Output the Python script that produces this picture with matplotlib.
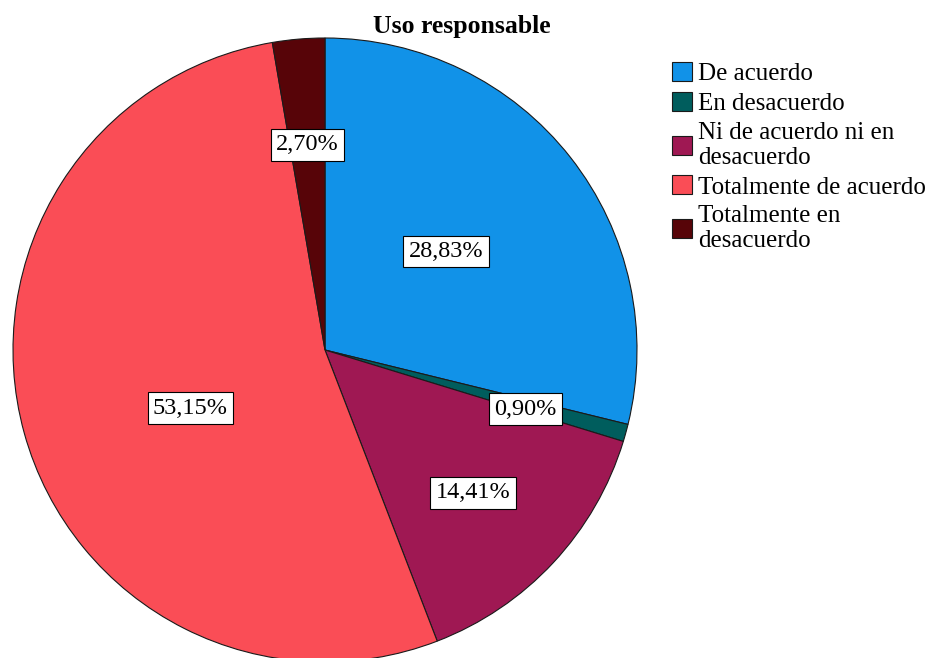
import matplotlib
matplotlib.use('Agg')
import matplotlib.pyplot as plt
import numpy as np

# Datos del gráfico
categorias = ['De acuerdo', 'En desacuerdo', 'Ni de acuerdo ni en\ndesacuerdo',
              'Totalmente de acuerdo', 'Totalmente en\ndesacuerdo']
porcentajes = [28.83, 0.90, 14.41, 53.15, 2.70]
etiquetas = ['28,83%', '0,90%', '14,41%', '53,15%', '2,70%']
colores = ['#1192e8', '#005d5d', '#9f1853', '#fa4d56', '#570408']

# posición de las etiquetas (fracción del radio, desfase angular en grados)
dist_etiqueta = [0.50, 0.67, 0.66, 0.47, 0.66]
desfase_ang = [1, -1, -1, 8, 0]

plt.rcParams['font.family'] = ['Liberation Serif', 'DejaVu Serif']

fig = plt.figure(figsize=(9.29, 6.58), dpi=100)
ax = fig.add_axes([13 / 929, -4 / 658, 624 / 929, 624 / 658])

wedges, _ = ax.pie(porcentajes, colors=colores, startangle=90, counterclock=False,
                   wedgeprops=dict(edgecolor='#1a1a1a', linewidth=0.8))
ax.set_xlim(-1, 1)
ax.set_ylim(-1, 1)
ax.set_aspect('equal')

for w, txt, d, da in zip(wedges, etiquetas, dist_etiqueta, desfase_ang):
    ang = np.deg2rad((w.theta1 + w.theta2) / 2 + da)
    ax.text(d * np.cos(ang), d * np.sin(ang), txt, ha='center', va='center', fontsize=17.5,
            bbox=dict(boxstyle='square,pad=0.22', facecolor='white', edgecolor='black', linewidth=0.8))

fig.text(0.497, 1 - 27 / 658, 'Uso responsable', ha='center', va='center',
         fontsize=18.5, fontweight='bold')

leg = fig.legend(wedges, categorias, loc='upper left', bbox_to_anchor=(672 / 929, 1 - 62 / 658),
                 frameon=False, fontsize=18, handlelength=0.8, handleheight=0.8,
                 handletextpad=0.25, labelspacing=0.27, borderpad=0, borderaxespad=0)
for t in leg.get_texts():
    t.set_linespacing(1.15)

fig.savefig('out.png', dpi=100)
